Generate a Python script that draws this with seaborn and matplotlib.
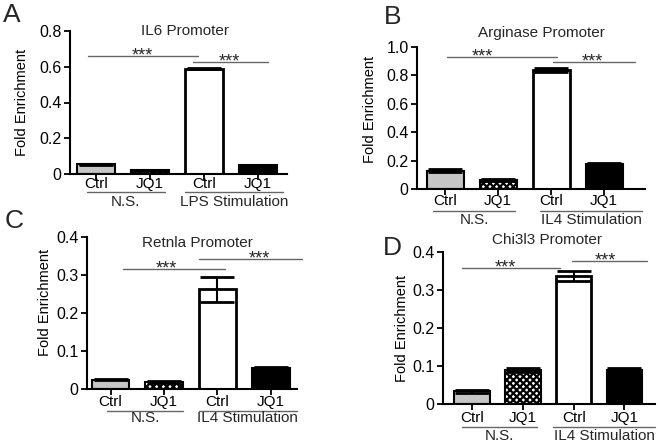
import matplotlib
matplotlib.use("Agg")
import matplotlib.pyplot as plt
import matplotlib.transforms as mtransforms
import pandas as pd
import seaborn as sns

# ── Data ──────────────────────────────────────────────────────────────────────
bar_keys = ["ctrl_ns", "jq1_ns", "ctrl_stim", "jq1_stim"]
bar_labels = ["Ctrl", "JQ1", "Ctrl", "JQ1"]

il6_mean = [0.055, 0.020, 0.590, 0.050]
il6_err = [0.003, 0.003, 0.005, 0.003]

arg_mean = [0.130, 0.062, 0.840, 0.178]
arg_err = [0.010, 0.008, 0.015, 0.006]

retnla_mean = [0.025, 0.018, 0.262, 0.055]
retnla_err = [0.002, 0.003, 0.033, 0.002]

chi_mean = [0.033, 0.090, 0.337, 0.090]
chi_err = [0.003, 0.006, 0.014, 0.006]

# ── Style ─────────────────────────────────────────────────────────────────────
sns.set_theme(style="ticks")
plt.rcParams["font.family"] = ["Liberation Sans", "DejaVu Sans"]
plt.rcParams["hatch.linewidth"] = 1.6

FACE = ["#c6c6c6", "white", "white", "black"]
HATCH = [None, "xxxxx", None, None]
LINE_GRAY = "#666666"

# panel layout: [left, bottom, width, height] in figure fractions (658x446 px)
W, H = 658.0, 446.0


def rect(l, r, top, bot):
    return [l / W, 1 - bot / H, (r - l) / W, (bot - top) / H]


panels = [
    dict(letter="A", title="IL6 Promoter", mean=il6_mean, err=il6_err,
         rect=rect(70, 287, 31, 174), ylim=0.8, step=0.2, xlim=(-0.48, 3.54),
         group="LPS Stimulation", letter_xy=(12, 15),
         title_xy=(0.53, 1.0), ylab_xy=(-0.19, 0.5),
         cap_top=4, gline_off=18, gtext_off=28,
         groups=[(-0.17, 1.28), (1.65, 3.46)],
         sig=[(-0.15, 1.89, 0.66, 0.87), (1.80, 3.19, 0.627, 2.48)]),
    dict(letter="B", title="Arginase Promoter", mean=arg_mean, err=arg_err,
         rect=rect(417, 645, 47, 189), ylim=1.0, step=0.2, xlim=(-0.53, 3.77),
         group="IL4 Stimulation", letter_xy=(393, 17),
         title_xy=(0.544, 1.10), ylab_xy=(-0.175, 0.56),
         cap_top=6, gline_off=22, gtext_off=31,
         groups=[(-0.23, 1.32), (1.79, 3.72)],
         sig=[(0.04, 2.11, 0.93, 0.70), (2.04, 3.58, 0.894, 2.77)]),
    dict(letter="C", title="Retnla Promoter", mean=retnla_mean, err=retnla_err,
         rect=rect(87, 297, 237, 389), ylim=0.4, step=0.1, xlim=(-0.44, 3.49),
         group="IL4 Stimulation", letter_xy=(14, 221),
         title_xy=(0.524, 0.96), ylab_xy=(-0.167, 0.57),
         cap_top=7, gline_off=22, gtext_off=29.5,
         groups=[(-0.07, 1.36), (1.65, 3.49)],
         sig=[(0.23, 2.14, 0.316, 1.04), (1.65, 3.58, 0.342, 2.78)]),
    dict(letter="D", title="Chi3l3 Promoter", mean=chi_mean, err=chi_err,
         rect=rect(443, 655, 252, 404), ylim=0.4, step=0.1, xlim=(-0.57, 3.6),
         group="IL4 Stimulation", letter_xy=(392, 248),
         title_xy=(0.49, 1.08), ylab_xy=(-0.16, 0.5),
         cap_top=8, gline_off=23, gtext_off=32,
         groups=[(-0.2, 1.28), (1.6, 3.6)],
         sig=[(-0.2, 1.73, 0.358, 0.65), (1.97, 3.45, 0.376, 2.62)]),
]

fig = plt.figure(figsize=(6.58, 4.46), dpi=100)
fig.patch.set_facecolor("white")

for p in panels:
    ax = fig.add_axes(p["rect"])
    df = pd.DataFrame({"key": bar_keys, "value": p["mean"]})
    sns.barplot(data=df, x="key", y="value", order=bar_keys, width=0.7,
                errorbar=None, ax=ax, zorder=2)

    for i, patch in enumerate(ax.patches):
        patch.set_facecolor(FACE[i])
        patch.set_edgecolor("black")
        patch.set_linewidth(2.0 if i == 2 else 1.5)
        if HATCH[i]:
            patch.set_hatch(HATCH[i])

    ax.errorbar(range(len(bar_keys)), p["mean"], yerr=p["err"], fmt="none",
                ecolor="black", elinewidth=1.5, capsize=12, capthick=2.0,
                zorder=3)

    # axes styling
    ax.set_xlim(*p["xlim"])
    ax.set_ylim(0, p["ylim"])
    n = int(round(p["ylim"] / p["step"]))
    yt = [round(k * p["step"], 2) for k in range(n + 1)]
    ax.set_yticks(yt)
    ax.set_yticklabels(["0" if v == 0 else f"{v:.1f}" for v in yt])
    ax.set_xticks(range(len(bar_labels)))
    ax.set_xticklabels(bar_labels)
    ax.tick_params(axis="both", direction="out", length=4, width=1.3,
                   color="black", labelsize=11.5, labelcolor="black")
    ax.tick_params(axis="x", labelsize=11, pad=(p["cap_top"] - 7) * 0.72)
    ax.tick_params(axis="y", pad=2)
    ax.set_xlabel("")
    ax.set_ylabel("Fold Enrichment", fontsize=10.5, color="black")
    ax.yaxis.set_label_coords(*p["ylab_xy"])
    sns.despine(ax=ax)
    for s in ["left", "bottom"]:
        ax.spines[s].set_linewidth(1.5)
        ax.spines[s].set_color("black")
    ax.set_facecolor("white")

    # title
    ax.text(p["title_xy"][0], p["title_xy"][1], p["title"],
            transform=ax.transAxes, ha="center", va="center", fontsize=11)

    # significance brackets
    for x0, x1, y, xs in p["sig"]:
        ax.plot([x0, x1], [y, y], color=LINE_GRAY, lw=1.0, clip_on=False)
        ax.text(xs, y, "***", ha="center", va="center", fontsize=13,
                clip_on=False)

    # group labels below the axis
    off = mtransforms.ScaledTranslation(0, -p["gline_off"] / 100.0,
                                        fig.dpi_scale_trans)
    trans_line = ax.get_xaxis_transform() + off
    off_t = mtransforms.ScaledTranslation(0, -p["gtext_off"] / 100.0,
                                          fig.dpi_scale_trans)
    trans_text = ax.get_xaxis_transform() + off_t
    names = ["N.S.", p["group"]]
    for (g0, g1), name in zip(p["groups"], names):
        ax.plot([g0, g1], [0, 0], color=LINE_GRAY, lw=1.0,
                transform=trans_line, clip_on=False)
        ax.text((g0 + g1) / 2, 0, name, ha="center", va="center",
                fontsize=11, transform=trans_text)

    # panel letter
    fig.text(p["letter_xy"][0] / W, 1 - p["letter_xy"][1] / H, p["letter"],
             ha="center", va="center", fontsize=19)

fig.savefig("out.png", dpi=100, facecolor="white")
